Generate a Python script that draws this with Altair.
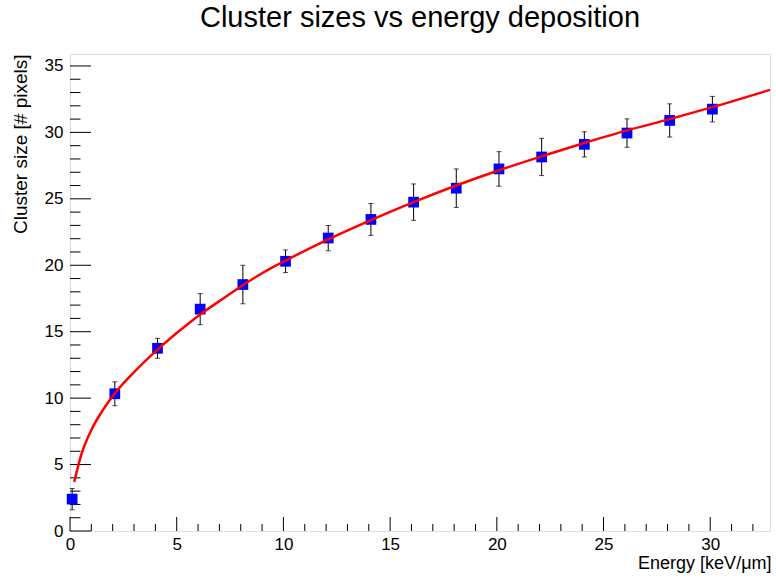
import altair as alt
import pandas as pd

# Measured points
energy = [0.1, 2.1, 4.1, 6.1, 8.1, 10.1, 12.1, 14.1, 16.1, 18.1, 20.1, 22.1, 24.1, 26.1, 28.1, 30.1]
cluster = [2.4, 10.33, 13.75, 16.7, 18.55, 20.3, 22.05, 23.45, 24.75, 25.8, 27.25, 28.15, 29.1, 29.95, 30.9, 31.75]
cluster_err = [0.8, 0.9, 0.75, 1.17, 1.45, 0.85, 0.95, 1.2, 1.37, 1.45, 1.3, 1.4, 0.95, 1.07, 1.25, 0.96]

# Fit curve
fit_x = [0.2, 0.5, 1.0, 1.5, 2.1, 3.0, 4.1, 5.0, 6.1, 7.0, 8.1, 9.0, 10.1, 12.1, 14.1, 16.1, 18.1, 20.1, 22.1, 24.1, 26.1, 28.1, 30.1, 32.8]
fit_y = [3.7, 5.6, 7.6, 9.0, 10.35, 11.95, 13.65, 14.9, 16.3, 17.3, 18.5, 19.4, 20.35, 21.95, 23.4, 24.75, 26.0, 27.15, 28.2, 29.2, 30.15, 31.0, 31.9, 33.2]

# Ticks
x_major = [0, 5, 10, 15, 20, 25, 30]
x_minor = [v for v in range(1, 33) if v % 5 != 0]
y_major = [0, 5, 10, 15, 20, 25, 30, 35]
y_minor = [v for v in range(1, 36) if v % 5 != 0]

X_DOMAIN = [0, 32.8]
Y_DOMAIN = [0, 35.9]
W, H = 700, 477
FONT = "Liberation Sans"

pts = pd.DataFrame({"x": energy, "y": cluster, "e": cluster_err})
pts["lo"] = pts["y"] - pts["e"]
pts["hi"] = pts["y"] + pts["e"]
fit = pd.DataFrame({"x": fit_x, "y": fit_y})

xs = alt.Scale(domain=X_DOMAIN, nice=False, zero=False)
ys = alt.Scale(domain=Y_DOMAIN, nice=False, zero=False)

x_axis = alt.Axis(values=x_major, format="d", tickSize=0, domain=False, grid=False,
                  labelFont=FONT, labelFontSize=17, labelColor="black", labelPadding=5,
                  labelFlush=False, labelOverlap=False,
                  title="Energy [keV/\u03bcm]", titleFont=FONT, titleFontSize=18,
                  titleFontWeight="normal", titleColor="black", titleAnchor="end",
                  titleAlign="right", titleX=W + 1, titleY=37, titleBaseline="alphabetic")
y_axis = alt.Axis(values=y_major, format="d", tickSize=0, domain=False, grid=False,
                  labelFont=FONT, labelFontSize=17, labelColor="black", labelPadding=7,
                  labelFlush=False, labelOverlap=False,
                  title="Cluster size [# pixels]", titleFont=FONT, titleFontSize=19,
                  titleFontWeight="normal", titleColor="black", titleAngle=270,
                  titleAlign="right", titleX=-50, titleY=0, titleBaseline="middle")

base = alt.Chart(pts)

bars = base.mark_rule(color="black", strokeWidth=1).encode(
    x=alt.X("x:Q", scale=xs, axis=x_axis),
    y=alt.Y("lo:Q", scale=ys, axis=y_axis),
    y2="hi:Q",
)
caps_lo = base.mark_tick(color="black", thickness=1, size=5, orient="horizontal").encode(
    x=alt.X("x:Q", scale=xs), y=alt.Y("lo:Q", scale=ys))
caps_hi = base.mark_tick(color="black", thickness=1, size=5, orient="horizontal").encode(
    x=alt.X("x:Q", scale=xs), y=alt.Y("hi:Q", scale=ys))

squares = base.mark_point(shape="square", filled=True, color="#0000ff", size=115, opacity=1).encode(
    x=alt.X("x:Q", scale=xs), y=alt.Y("y:Q", scale=ys))

line = alt.Chart(fit).mark_line(color="#ff0000", strokeWidth=2.5, interpolate="monotone").encode(
    x=alt.X("x:Q", scale=xs), y=alt.Y("y:Q", scale=ys))

def yticks(vals, length):
    return alt.Chart(pd.DataFrame({"v": vals})).mark_rule(color="black", strokeWidth=1).encode(
        y=alt.Y("v:Q", scale=ys), x=alt.value(0), x2=alt.value(length))

def xticks(vals, length):
    return alt.Chart(pd.DataFrame({"v": vals})).mark_rule(color="black", strokeWidth=1).encode(
        x=alt.X("v:Q", scale=xs), y=alt.value(H), y2=alt.value(H - length))

chart = alt.layer(
    yticks(y_major, 21), yticks(y_minor, 10.5),
    xticks(x_major, 14), xticks(x_minor, 7),
    bars, caps_lo, caps_hi, squares, line,
).properties(
    width=W, height=H,
    autosize=alt.AutoSizeParams(type="none"),
    padding={"left": 70, "top": 54, "right": 6, "bottom": 48},
    title=alt.TitleParams("Cluster sizes vs energy deposition", font=FONT, fontSize=29,
                          fontWeight="normal", color="black", anchor="middle", frame="group",
                          offset=21),
).configure_view(stroke="black", strokeWidth=1).configure(background="white")

chart.save("out.html", embed_options={"renderer": "svg", "actions": False})
